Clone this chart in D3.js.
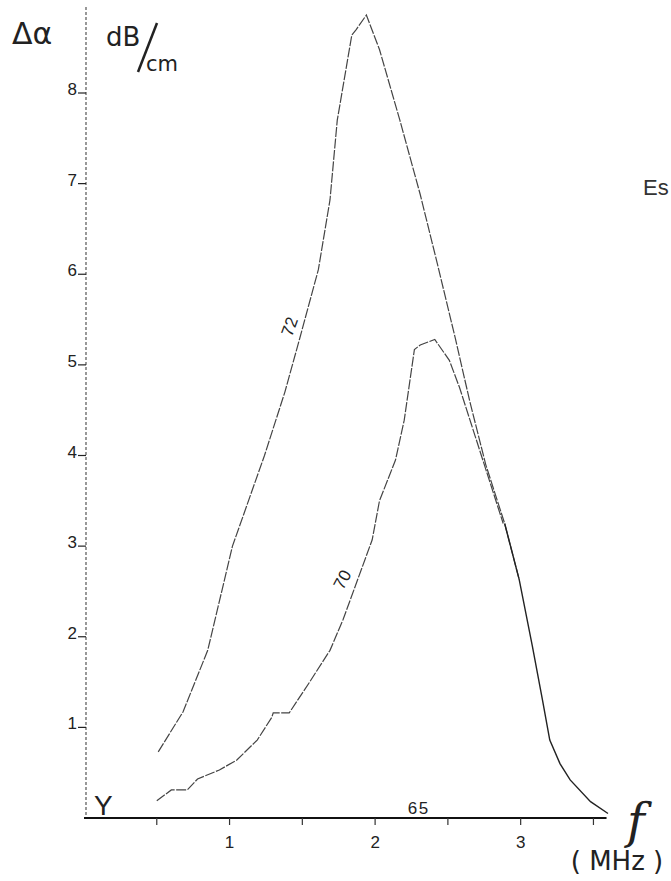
<!DOCTYPE html>
<html><head><meta charset="utf-8">
<script src="https://cdn.jsdelivr.net/npm/d3@7"></script>
<style>html,body{margin:0;padding:0;background:#fff;overflow:hidden}</style>
</head><body>
<script>
// ---- data ----
const freq72 = [0.51, 0.68, 0.85, 1.02, 1.24, 1.38, 1.48, 1.61, 1.69, 1.74, 1.84, 1.87, 1.94, 2.03, 2.17, 2.31, 2.43, 2.55, 2.65, 2.76, 2.89, 2.99, 3.08, 3.15, 3.20, 3.27, 3.34, 3.48, 3.60];
const alpha72 = [0.73, 1.17, 1.85, 3.0, 4.0, 4.7, 5.28, 6.05, 6.82, 7.7, 8.64, 8.7, 8.86, 8.48, 7.7, 6.88, 6.1, 5.3, 4.6, 3.9, 3.25, 2.63, 1.9, 1.3, 0.86, 0.6, 0.42, 0.18, 0.05];
const freq70 = [0.50, 0.60, 0.71, 0.78, 0.93, 1.05, 1.19, 1.29, 1.30, 1.41, 1.55, 1.69, 1.78, 1.98, 2.03, 2.14, 2.20, 2.27, 2.31, 2.41, 2.51, 2.58, 2.66, 2.76, 2.88];
const alpha70 = [0.19, 0.31, 0.31, 0.43, 0.53, 0.64, 0.86, 1.11, 1.16, 1.16, 1.5, 1.85, 2.19, 3.07, 3.5, 3.95, 4.39, 5.17, 5.22, 5.28, 5.05, 4.75, 4.35, 3.85, 3.25];
const seriesNames = ["72", "70", "65"];
const labelFreq = [1.45, 1.81, 2.3];
const labelAlpha = [5.4, 2.6, 0.04];
const labelAngle = [-70, -62, 0];
const yTicks = [1, 2, 3, 4, 5, 6, 7, 8];
const xTicks = [0.5, 1, 1.5, 2, 2.5, 3, 3.5];
const xTickLabels = ["", "1", "", "2", "", "3", ""];

// ---- chart ----
const W = 671, H = 881;
const svg = d3.select("body").append("svg").attr("width", W).attr("height", H);
const x = d3.scaleLinear().domain([0, 3.6]).range([84, 608]);
const y = d3.scaleLinear().domain([0, 8]).range([818, 93]);
const font = "Liberation Sans, Arial, sans-serif";

// y axis (dashed)
svg.append("line").attr("x1", 86).attr("x2", 86).attr("y1", y(8.95)).attr("y2", y(0))
  .attr("stroke", "#555").attr("stroke-width", 1.2).attr("stroke-dasharray", "3 2");
yTicks.forEach(t => {
  svg.append("line").attr("x1", 78).attr("x2", 86).attr("y1", y(t)).attr("y2", y(t))
    .attr("stroke", "#222").attr("stroke-width", 1.2);
  svg.append("text").attr("x", 77).attr("y", y(t) + 2).attr("text-anchor", "end")
    .attr("font-family", font).attr("font-size", 17).attr("fill", "#222").text(t);
});

// x axis
svg.append("line").attr("x1", 84).attr("x2", x(3.59)).attr("y1", y(0)).attr("y2", y(0))
  .attr("stroke", "#111").attr("stroke-width", 2);
xTicks.forEach((t, i) => {
  svg.append("line").attr("x1", x(t)).attr("x2", x(t)).attr("y1", y(0)).attr("y2", y(0) + 7)
    .attr("stroke", "#333").attr("stroke-width", 1.2);
  if (xTickLabels[i]) svg.append("text").attr("x", x(t)).attr("y", 848).attr("text-anchor", "middle")
    .attr("font-family", font).attr("font-size", 17).attr("fill", "#222").text(xTickLabels[i]);
});

// curves
const line = d3.line().x(d => x(d[0])).y(d => y(d[1]));
const d72 = d3.zip(freq72, alpha72);
const d70 = d3.zip(freq70, alpha70);
svg.append("path").attr("d", line(d72.filter(d => d[0] <= 2.99))).attr("fill", "none").attr("stroke", "#444")
  .attr("stroke-width", 1.2).attr("stroke-dasharray", "10 1.5");
svg.append("path").attr("d", line(d72.filter(d => d[0] >= 2.89))).attr("fill", "none").attr("stroke", "#222")
  .attr("stroke-width", 1.4);
svg.append("path").attr("d", line(d70)).attr("fill", "none").attr("stroke", "#444")
  .attr("stroke-width", 1.2).attr("stroke-dasharray", "10 1.5");

// curve labels
seriesNames.forEach((n, i) => {
  const px = x(labelFreq[i]), py = y(labelAlpha[i]);
  svg.append("text").attr("transform", `translate(${px},${py}) rotate(${labelAngle[i]})`)
    .attr("text-anchor", "middle").attr("font-family", font).attr("font-size", 17)
    .attr("fill", "#222").attr("letter-spacing", i === 2 ? 1.5 : 0).text(n);
});

// axis titles
svg.append("text").attr("x", 12).attr("y", 44).attr("font-family", "DejaVu Sans, sans-serif")
  .attr("font-size", 30).attr("fill", "#222").text("Δα");
svg.append("text").attr("x", 106).attr("y", 46).attr("font-family", "DejaVu Sans, sans-serif")
  .attr("font-size", 26).attr("fill", "#222").text("dB");
svg.append("line").attr("x1", 157).attr("y1", 23).attr("x2", 138).attr("y2", 72)
  .attr("stroke", "#222").attr("stroke-width", 2.5);
svg.append("text").attr("x", 146).attr("y", 71).attr("font-family", "DejaVu Sans, sans-serif")
  .attr("font-size", 21).attr("fill", "#222").text("cm");

svg.append("text").attr("x", 94).attr("y", 815).attr("font-family", font)
  .attr("font-size", 28).attr("fill", "#222").text("Y");
svg.append("text").attr("x", 643).attr("y", 195).attr("font-family", font)
  .attr("font-size", 22).attr("fill", "#333").text("Es");
svg.append("text").attr("x", 636).attr("y", 838).attr("text-anchor", "middle")
  .attr("font-family", "DejaVu Serif, serif").attr("font-style", "italic")
  .attr("font-size", 48).attr("fill", "#222").text("f");
svg.append("text").attr("x", 617).attr("y", 870).attr("text-anchor", "middle")
  .attr("font-family", "DejaVu Sans, sans-serif").attr("font-size", 26)
  .attr("fill", "#222").text("( MHz )");
</script>
</body></html>
